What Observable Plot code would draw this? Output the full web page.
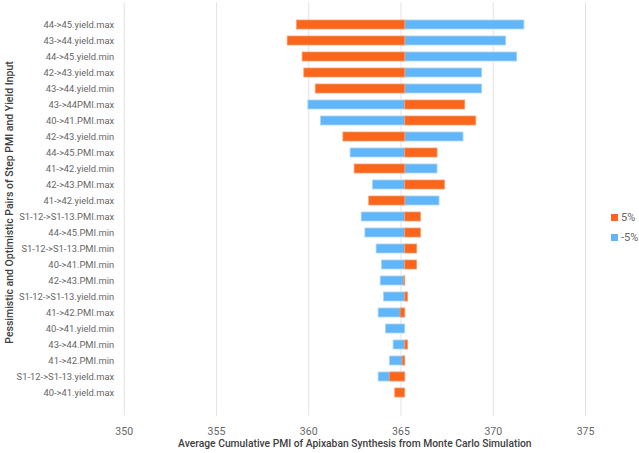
<!DOCTYPE html>
<html>
<head>
<meta charset="utf-8">
<script src="https://cdn.jsdelivr.net/npm/d3@7"></script>
<script src="https://cdn.jsdelivr.net/npm/@observablehq/plot@0.6"></script>
<style>
  html, body { margin: 0; padding: 0; background: #fff; }
  #wrap { position: relative; width: 639px; height: 453px; font-family: Roboto, sans-serif; }
  .leg { position: absolute; left: 611px; font-size: 11px; color: #666; display: flex; align-items: center; }
  .sw { width: 7px; height: 7px; margin-right: 3px; display: inline-block; }
</style>
</head>
<body>
<div id="wrap"></div>
<script>
const labels = [
  "44->45.yield.max", "43->44.yield.max", "44->45.yield.min", "42->43.yield.max",
  "43->44.yield.min", "43->44PMI.max", "40->41.PMI.max", "42->43.yield.min",
  "44->45.PMI.max", "41->42.yield.min", "42->43.PMI.max", "41->42.yield.max",
  "S1-12->S1-13.PMI.max", "44->45.PMI.min", "S1-12->S1-13.PMI.min", "40->41.PMI.min",
  "42->43.PMI.min", "S1-12->S1-13.yield.min", "41->42.PMI.max", "40->41.yield.min",
  "43->44.PMI.min", "41->42.PMI.min", "S1-12->S1-13.yield.max", "40->41.yield.max"
];
const plus5 = [
  359.37, 358.86, 359.67, 359.76, 360.38, 368.48, 369.08, 361.88,
  366.98, 362.49, 367.38, 363.28, 366.08, 366.08, 365.88, 365.87,
  365.16, 365.38, 364.98, 365.23, 365.38, 365.09, 364.40, 364.69
];
const minus5 = [
  371.69, 370.70, 371.30, 369.40, 369.40, 359.98, 360.67, 368.39,
  362.27, 366.98, 363.48, 367.09, 362.87, 363.07, 363.68, 363.97,
  363.90, 364.08, 363.79, 364.19, 364.60, 364.40, 363.79, 365.23
];
const baseline = 365.23;
const xTicks = [350, 355, 360, 365, 370, 375];
const seriesNames = ["5%", "-5%"];
const colors = ["#fa661b", "#62b6f7"];
const xTitle = "Average Cumulative PMI of Apixaban Synthesis from Monte Carlo Simulation";
const yTitle = "Pessimistic and Optimistic Pairs of Step PMI and Yield Input";

const rows = labels.map((l, i) => ({label: l, p: plus5[i], m: minus5[i]}));
const font = "Roboto, sans-serif";

const plot = Plot.plot({
  width: 639,
  height: 453,
  marginLeft: 123.7,
  marginRight: 54,
  marginTop: 2.4,
  marginBottom: 37.4,
  style: {fontFamily: font, fontSize: "10px", color: "#666"},
  x: {domain: [350, 375]},
  y: {domain: labels, padding: 0.42},
  marks: [
    Plot.gridX(xTicks, {stroke: "#e3e3e3", strokeOpacity: 1, strokeWidth: 1}),
    Plot.barX(rows, {y: "label", x1: () => baseline, x2: "m", fill: colors[1], stroke: "#a6d6fb", strokeWidth: 0.8}),
    Plot.barX(rows, {y: "label", x1: () => baseline, x2: "p", fill: colors[0], stroke: "#fb9a66", strokeWidth: 0.8}),
    Plot.axisX({ticks: xTicks, tickSize: 0, tickPadding: 11, fontSize: 10.5, label: null}),
    Plot.axisY({tickSize: 0, tickPadding: 10, fontSize: 9.4, label: null}),
    Plot.text([xTitle], {frameAnchor: "bottom", dy: 31, fontSize: 10.3, fontWeight: 500, fill: "#404040"}),
    Plot.text([yTitle], {frameAnchor: "left", rotate: -90, textAnchor: "middle", dx: -115, dy: -7, fontSize: 10.5, fontWeight: 500, fill: "#404040"})
  ]
});
document.getElementById("wrap").appendChild(plot);

const wrap = document.getElementById("wrap");
seriesNames.forEach((n, i) => {
  const d = document.createElement("div");
  d.className = "leg";
  d.style.top = (211 + i * 20) + "px";
  d.innerHTML = `<span class="sw" style="background:${colors[i]}"></span>${n}`;
  wrap.appendChild(d);
});
</script>
</body>
</html>
